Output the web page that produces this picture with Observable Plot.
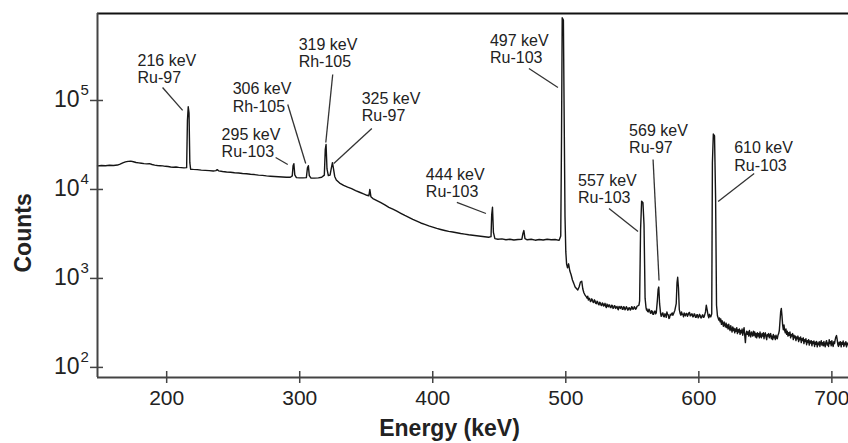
<!DOCTYPE html>
<html><head><meta charset="utf-8">
<script src="https://cdn.jsdelivr.net/npm/d3@7"></script>
<script src="https://cdn.jsdelivr.net/npm/@observablehq/plot@0.6"></script>
<style>body{margin:0;background:#fff}svg{display:block}</style>
</head><body><div id="chart"></div>
<script>
// ---- data ----
const xTicks = [200, 300, 400, 500, 600, 700];
const yTicks = [1e2, 1e3, 1e4, 1e5];
const yTickExp = ["2", "3", "4", "5"];
const xDomain = [148, 712.5];
const yDomain = [77, 9.5e5];

// [energy keV, counts]
const spectrum = [
[148,18400],[151,18600],[154,18500],[157,18700],[160,18600],[163,18800],[165,19300],[167,19900],[169,20400],[171,20700],
[173,20800],[175,20500],[177,20100],[179,19900],[181,19700],[183,19500],[185,19400],[187,19500],[189,19100],[191,18800],
[193,18600],[195,18500],[197,18400],[199,18200],[201,18100],[203,17900],[205,17800],[207,17900],[209,17700],[211,17600],
[213,17500],[215,17600],[215.6,60000],[216.2,85000],[216.8,72000],[217.4,20000],[218,16900],[220,16800],[223,16700],
[226,16500],[229,16400],[232,16300],[235,16100],[237,16300],[238,16700],[239,16200],[242,15900],[245,15700],[248,15600],
[251,15400],[254,15300],[257,15100],[260,15000],[263,14800],[266,14700],[269,14500],[272,14400],[275,14200],[278,14100],
[281,14000],[284,13900],[287,13800],[290,13700],[293,13700],[294.4,14200],[295,18500],[295.6,19500],[296.3,14600],
[297.5,13600],[300,13500],[302.5,13500],[305,13600],[305.8,17500],[306.5,18500],[307.2,14300],[308.5,13400],[311,13400],
[314,13500],[316.5,13700],[318.5,14500],[319.2,28000],[319.8,32000],[320.5,17000],[321.5,14300],[322.8,14500],
[323.8,17500],[324.6,20000],[325.4,17000],[326.3,14000],[327.5,12800],[330,11800],[333,11100],[336,10600],[339,10200],
[342,9700],[345,9300],[348,8900],[350.5,8600],[352,8500],[352.7,10000],[353.5,8300],[355,7900],[358,7500],[361,7100],
[364,6700],[367,6300],[370,6000],[373,5700],[376,5400],[379,5100],[382,4850],[385,4600],[388,4400],[391,4200],[394,4050],
[397,3900],[400,3780],[403,3650],[406,3550],[409,3460],[412,3380],[415,3320],[418,3260],[421,3200],[424,3150],[427,3100],
[430,3060],[433,3020],[436,2980],[439,2940],[442,2900],[443.8,2950],[444.3,5200],[444.9,6300],[445.6,3300],[446.7,2800],
[449,2760],[452,2780],[455,2720],[458,2760],[461,2700],[464,2740],[467,2760],[467.8,3200],[468.5,3450],[469.3,2800],
[471,2720],[474,2760],[477,2690],[480,2740],[483,2700],[486,2760],[489,2720],[492,2740],[495,2680],[496.2,3000],
[496.8,40000],[497.3,850000],[498.2,800000],[498.8,60000],[499.4,5000],[500,2000],[500.6,1450],[501.3,1320],[502.1,1460],
[503,1220],[504,1100],[505,960],[506,880],[507,800],[508,770],[509,740],[510,800],[511,910],[512,930],[512.8,760],
[513.6,690],[514.5,650],[515.5,620],[516,600],[516.5,630],[517,570],[517.5,600],[518,590],[518.5,550],[519,555],[519.5,590],
[520,575],[520.5,540],[521,535],[521.5,575],[522,560],[522.5,525],[523,520],[523.5,555],[524,545],[524.5,510],[525,505],
[525.5,540],[526,530],[526.5,500],[527,495],[527.5,530],[528,520],[528.5,490],[529,500],[529.5,525],[530,485],[530.5,470],
[531,515],[531.5,490],[532,480],[532.5,505],[533,500],[533.5,470],[534,470],[534.5,500],[535,495],[535.5,460],[536,465],
[536.5,495],[537,490],[537.5,460],[538,475],[538.5,485],[539,455],[539.5,445],[540,485],[540.5,470],[541,460],[541.5,485],
[542,480],[542.5,450],[543,450],[543.5,480],[544,475],[544.5,445],[545,455],[545.5,480],[546,470],[546.5,440],[547,445],
[547.5,470],[548,465],[548.5,440],[549,450],[549.5,480],[550,475],[550.5,450],[551,455],[551.5,480],[552,470],[552.5,450],
[553,460],[553.5,485],[554,490],[555,500],[555.5,560],[556.2,3500],[557,7400],[558,7100],
[558.8,4000],[559.6,600],[560.3,470],[560.7,440],[561,455],[561.5,425],[562,420],[562.5,450],[563,440],[563.5,410],
[564,405],[564.5,435],[565,425],[565.5,395],[566,395],[566.5,425],[567,430],[567.5,400],[568,410],
[568.8,560],[569.4,750],[569.9,800],[570.5,520],[571.3,400],[571.7,375],[572,380],[572.5,405],[573,410],[573.5,375],
[574,370],[574.5,400],[575,395],[575.5,365],[576,420],[576.5,395],[577,390],[577.5,355],[578,360],[578.5,395],[579,385],
[579.5,400],[580,410],[580.5,385],[581,400],[581.5,420],[582,440],[583,520],[583.6,900],[584.1,1030],[584.7,780],
[585.3,450],[586,400],[586.5,385],[587,420],[587.5,395],[588,395],[588.5,370],[589,410],[589.5,390],[590,380],[590.5,405],
[591,405],[591.5,375],[592,390],[592.5,410],[593,415],[593.5,380],[594,380],[594.5,400],[595,400],[595.5,370],[596,375],
[596.5,400],[597,395],[597.5,365],[598,365],[598.5,390],[599,390],[599.5,360],[600,370],[600.5,395],[601,385],[601.5,360],
[602,360],[602.5,385],[603,390],[603.5,365],[604,370],[604.5,395],[605,420],[605.6,500],[606.3,440],[607,380],[607.5,360],
[608,395],[608.5,375],[609,370],[609.7,400],[610.2,20000],[610.9,42000],[611.8,40000],[612.6,8000],[613.3,500],[614,380],
[615,340],[615.5,360],[616,325],[616.5,350],[617,305],[617.5,335],[618,310],[618.5,290],[619,325],[619.5,300],[620,285],
[620.5,315],[621,280],[621.5,300],[622,270],[622.5,305],[623,275],[623.5,260],[624,295],[624.5,270],[625,250],[625.5,285],
[626,260],[626.5,275],[627,245],[627.5,270],[628,255],[628.5,280],[629,240],[629.5,265],[630,250],[630.5,270],[631,235],
[631.5,260],[632,245],[632.5,270],[633,230],[633.5,255],[634,280],[634.5,230],[635,190],[635.5,240],[636,255],[636.5,235],
[637,250],[637.5,225],[638,260],[638.5,235],[639,220],[639.5,250],[640,240],[640.5,225],[641,255],[641.5,230],[642,250],
[642.5,220],[643,240],[643.5,215],[644,245],[644.5,225],[645,240],[645.5,215],[646,250],[646.5,225],[647,215],[647.5,240],
[648,225],[648.5,245],[649,210],[649.5,235],[650,245],[650.5,220],[651,205],[651.5,235],[652,225],[652.5,240],[653,215],
[653.5,230],[654,240],[654.5,210],[655,225],[655.5,205],[656,235],[656.5,215],[657,225],[657.5,205],[658,230],[658.5,215],
[659,210],[659.5,230],[660,240],[660.5,260],[661,330],[661.5,420],[662,460],[662.5,380],[663,300],[663.5,265],[664,300],
[664.5,260],[665,245],[665.5,270],[666,235],[666.5,255],[667,225],[667.5,245],[668,230],[668.5,250],[669,215],[669.5,235],
[670,225],[670.5,240],[671,205],[671.5,230],[672,215],[672.5,225],[673,200],[673.5,220],[674,210],[674.5,225],[675,195],
[675.5,215],[676,205],[676.5,220],[677,190],[677.5,210],[678,200],[678.5,215],[679,185],[679.5,205],[680,195],[680.5,210],
[681,180],[681.5,200],[682,190],[682.5,205],[683,178],[683.5,198],[684,188],[684.5,200],[685,175],[685.5,195],[686,185],
[686.5,198],[687,172],[687.5,192],[688,182],[688.5,196],[689,170],[689.5,188],[690,180],[690.5,195],[691,172],[691.5,190],
[692,200],[692.5,178],[693,190],[693.5,175],[694,196],[694.5,180],[695,170],[695.5,192],[696,200],[696.5,178],[697,188],
[697.5,172],[698,205],[698.5,185],[699,195],[699.5,175],[700,200],[700.5,182],[701,172],[701.5,195],[702,185],[702.5,205],
[703,220],[703.5,228],[704,205],[704.5,180],[705,172],[705.5,192],[706,180],[706.5,195],[707,170],[707.5,190],[708,182],
[708.5,198],[709,172],[709.5,188],[710,180],[710.5,195],[711,170],[711.5,188],[712,180],[712.5,185]
];

// peak annotations
const peakText = ["216 keV\nRu-97","306 keV\nRh-105","295 keV\nRu-103","319 keV\nRh-105","325 keV\nRu-97",
  "497 keV\nRu-103","444 keV\nRu-103","557 keV\nRu-103","569 keV\nRu-97","610 keV\nRu-103"];
const textE = [178.1, 249.6, 241.3, 299.2, 346.6, 443.0, 394.8, 509.2, 547.6, 626.6];
const textC = [1.553e5, 7.52e4, 2.29e4, 2.35e5, 5.81e4, 2.61e5, 8.13e3, 6.97e3, 2.54e4, 1.63e4];
const leadE1 = [196.9, 291.0, 281.9, 324.8, 354.2, 472.3, 418.1, 532.5, 565.6, 641.6];
const leadC1 = [1.40e5, 9.02e4, 2.29e4, 1.96e5, 4.84e4, 2.29e5, 7.15e3, 6.12e3, 2.17e4, 1.51e4];
const leadE2 = [212.0, 304.5, 291.0, 319.6, 325.6, 494.1, 440.0, 554.3, 570.1, 614.5];
const leadC2 = [7.73e4, 1.96e4, 1.91e4, 3.37e4, 1.96e4, 1.40e5, 5.37e3, 3.37e3, 950, 7.33e3];

// axis titles
const xTitle = "Energy (keV)";
const yTitle = "Counts";

// ---- build ----
const labels = peakText.map((t, i) => ({t, x: textE[i], y: textC[i]}));
const leaders = leadE1.map((e, i) => ({x1: e, y1: leadC1[i], x2: leadE2[i], y2: leadC2[i]}));
const yt = yTicks.map((v, i) => ({v, e: yTickExp[i]}));
const FONT = "'Liberation Sans', Arial, Helvetica, sans-serif";
const AX = "#444";

const chart = Plot.plot({
  width: 848, height: 443,
  marginLeft: 97, marginRight: 0, marginTop: 13, marginBottom: 66,
  style: {fontFamily: FONT, background: "#fff", overflow: "visible"},
  x: {domain: xDomain, label: null},
  y: {type: "log", domain: yDomain, label: null},
  marks: [
    Plot.ruleY([yDomain[1]], {stroke: "#111", strokeWidth: 2}),
    Plot.line(spectrum, {x: d => d[0], y: d => d[1], stroke: "#151515", strokeWidth: 1.4}),
    Plot.axisX({ticks: xTicks, tickSize: 6, tickPadding: 7, fontSize: 21, fill: "#222", stroke: AX, strokeWidth: 1.5, label: null}),
    Plot.axisX({ticks: xTicks, tickSize: -6, tickFormat: () => "", stroke: AX, strokeWidth: 1.5, label: null}),
    Plot.axisY({ticks: yTicks, tickSize: 7, tickFormat: () => "", stroke: AX, strokeWidth: 1.5, label: null}),
    Plot.axisY({ticks: yTicks, tickSize: -6, tickFormat: () => "", stroke: AX, strokeWidth: 1.5, label: null}),
    Plot.ruleX([xDomain[0]], {stroke: AX, strokeWidth: 2}),
    Plot.ruleY([yDomain[0]], {stroke: AX, strokeWidth: 2}),
    Plot.text(yt, {frameAnchor: "left", y: "v", text: () => "10", textAnchor: "end", dx: -18, dy: -1,
      fontSize: 23, fill: "#222"}),
    Plot.text(yt, {frameAnchor: "left", y: "v", text: "e", textAnchor: "start", dx: -17, dy: -10,
      fontSize: 15, fill: "#222"}),
    Plot.link(leaders, {x1: "x1", y1: "y1", x2: "x2", y2: "y2", stroke: "#333", strokeWidth: 1.3}),
    Plot.text(labels, {x: "x", y: "y", text: "t", textAnchor: "start", lineAnchor: "bottom",
      lineHeight: 1.1, fontSize: 16, fill: "#222"}),
    Plot.text([yTitle], {frameAnchor: "bottom-left", text: d => d, rotate: -90, textAnchor: "start",
      dx: -67, dy: -105, fontSize: 23, fontWeight: "bold", fill: "#222"}),
    Plot.text([xTitle], {frameAnchor: "bottom", text: d => d, dx: -23.5, dy: 58,
      fontSize: 23, fontWeight: "bold", fill: "#222"})
  ]
});
document.getElementById("chart").appendChild(chart);
</script>
</body></html>
